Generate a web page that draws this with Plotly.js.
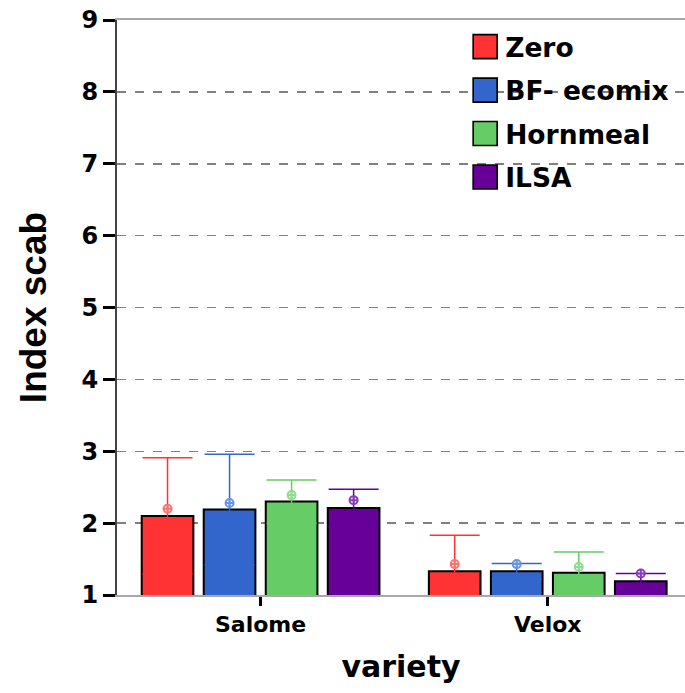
<!DOCTYPE html>
<html>
<head>
<meta charset="utf-8">
<script src="https://cdn.plot.ly/plotly-3.0.1.min.js"></script>
<style>html,body{margin:0;padding:0;background:#fff;}#chart{width:685px;height:693px;}</style>
</head>
<body>
<div id="chart"></div>
<script>
// ---- data ----
var categories = ['Salome', 'Velox'];
var seriesNames = ['Zero', 'BF- ecomix', 'Hornmeal', 'ILSA'];
var zeroBar = [2.10, 1.33];
var bfBar = [2.19, 1.33];
var hornBar = [2.30, 1.31];
var ilsaBar = [2.21, 1.19];
var zeroErr = [0.81, 0.50];
var bfErr = [0.77, 0.11];
var hornErr = [0.30, 0.29];
var ilsaErr = [0.26, 0.11];
var zeroPoint = [2.20, 1.43];
var bfPoint = [2.28, 1.43];
var hornPoint = [2.39, 1.39];
var ilsaPoint = [2.32, 1.30];
var yTickVals = [1, 2, 3, 4, 5, 6, 7, 8, 9];

// ---- styles ----
var barColors = ['#ff3333', '#3366cc', '#66cc66', '#660099'];
var pointColors = ['#ff7070', '#6a95e0', '#8fdc8f', '#8a3dbb'];
var WIDE = 'DejaVu Sans, Verdana, sans-serif';
var NARROW = 'Liberation Sans Narrow, Arial Narrow, Liberation Sans, Arial, sans-serif';

var bars = [zeroBar, bfBar, hornBar, ilsaBar];
var errs = [zeroErr, bfErr, hornErr, ilsaErr];
var points = [zeroPoint, bfPoint, hornPoint, ilsaPoint];

var traces = [];
for (var i = 0; i < 4; i++) {
  traces.push({
    type: 'bar', x: categories, y: bars[i], name: seriesNames[i],
    offsetgroup: 'g' + i, showlegend: false,
    marker: {color: barColors[i], line: {color: '#000', width: 2}},
    error_y: {type: 'data', array: errs[i], visible: true, color: barColors[i], thickness: 1.5, width: 25}
  });
}
for (var i = 0; i < 4; i++) {
  traces.push({
    type: 'scatter', mode: 'markers', x: categories, y: points[i], name: seriesNames[i],
    offsetgroup: 'g' + i, showlegend: false,
    marker: {symbol: 'circle-cross-open', size: 8, color: pointColors[i], line: {width: 2, color: pointColors[i]}}
  });
}
for (var i = 0; i < 4; i++) {
  traces.push({
    type: 'scatter', mode: 'markers', x: [null], y: [null], name: seriesNames[i],
    legendgroup: 'l' + i, showlegend: true,
    marker: {symbol: 'square', size: 16, color: barColors[i], line: {color: '#000', width: 1.1}}
  });
}

var layout = {
  width: 685, height: 693,
  margin: {l: 117, r: 0, t: 20, b: 98},
  paper_bgcolor: '#fff', plot_bgcolor: '#fff',
  barmode: 'group', bargap: 0.136, bargroupgap: 0.167,
  scattermode: 'group', scattergap: 0.136,
  showlegend: true,
  legend: {
    x: 0.613, y: 0.995, xanchor: 'left', yanchor: 'top',
    font: {family: WIDE, size: 26.5, color: '#000', weight: 'bold'},
    bgcolor: 'rgba(0,0,0,0)', tracegroupgap: 6, itemsizing: 'trace'
  },
  xaxis: {
    type: 'category', range: [-0.5, 1.478],
    showline: true, linecolor: '#a8a8a8', linewidth: 2, mirror: true,
    showgrid: false, zeroline: false,
    ticks: 'outside', ticklen: 9, tickwidth: 3, tickcolor: '#000',
    tickfont: {family: WIDE, size: 22, color: '#000', weight: 'bold'},
    title: {text: 'variety', font: {family: WIDE, size: 30, color: '#000', weight: 'bold'}, standoff: 20}
  },
  yaxis: {
    range: [1, 9], tickvals: yTickVals, ticktext: yTickVals.map(String),
    showline: true, linecolor: '#444', linewidth: 2,
    showgrid: true, gridcolor: '#808080', griddash: 'dash', gridwidth: 1.5,
    zeroline: false,
    ticks: 'outside', ticklen: 12, tickwidth: 3, tickcolor: '#000',
    tickfont: {family: WIDE, size: 24, color: '#000', weight: 'bold'},
    title: {text: 'Index scab', font: {family: NARROW, size: 37, color: '#000', weight: 'bold'}, standoff: 24}
  }
};

Plotly.newPlot('chart', traces, layout, {displayModeBar: false, staticPlot: true}).then(function (gd) {
  // enlarge legend swatches to match the reference's big square keys
  var pts = gd.querySelectorAll('.legend .legendpoints path.scatterpts');
  pts.forEach(function (p) {
    var t = p.getAttribute('transform') || '';
    p.setAttribute('transform', t + ' scale(1.5)');
  });
});
</script>
</body>
</html>
